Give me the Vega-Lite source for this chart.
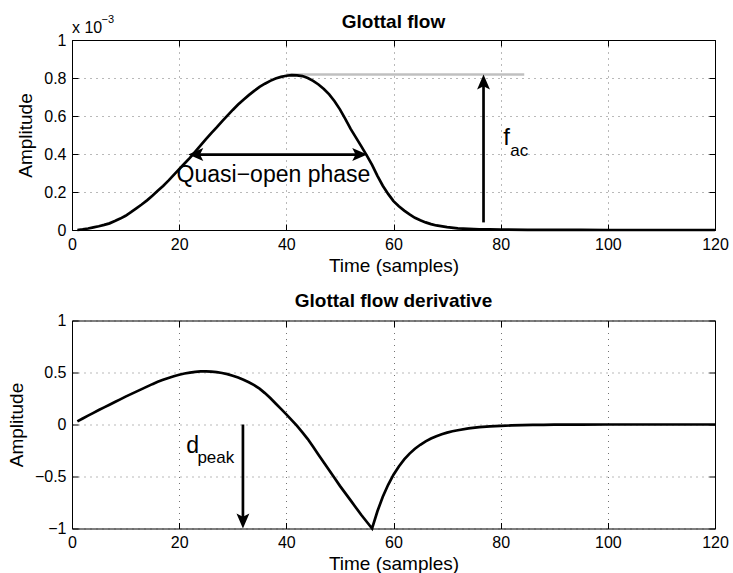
{
  "$schema": "https://vega.github.io/schema/vega-lite/v6.json",
  "background": "white",
  "padding": {"left": 7, "top": 13, "right": 5, "bottom": 0},
  "spacing": 16.5,
  "config": {
    "font": "Liberation Sans",
    "view": {"stroke": null},
    "axis": {
      "domainColor": "#000", "domainWidth": 1,
      "tickColor": "#000", "tickSize": -6, "tickWidth": 1,
      "labelColor": "#000", "labelFontSize": 16, "labelFont": "Liberation Sans",
      "labelFlush": false, "labelOverlap": false, "labelBound": false,
      "titleColor": "#000", "titleFontSize": 19, "titleFontWeight": "normal", "titleFont": "Liberation Sans",
      "gridColor": "#000", "gridOpacity": 0.55, "gridDash": [1, 5], "gridWidth": 1,
      "format": "~r"
    },
    "axisX": {"labelPadding": 12, "titlePadding": 4},
    "axisY": {"labelPadding": 12, "titlePadding": 8},
    "title": {"fontSize": 19, "fontWeight": "bold", "color": "#000", "font": "Liberation Sans", "offset": 2}
  },
  "datasets": {
    "flow": [
      {"t": 1, "v": 0.0}, {"t": 2, "v": 0.003}, {"t": 3, "v": 0.008}, {"t": 4, "v": 0.014}, {"t": 5, "v": 0.02},
      {"t": 6, "v": 0.027}, {"t": 7, "v": 0.035}, {"t": 8, "v": 0.047}, {"t": 9, "v": 0.06}, {"t": 10, "v": 0.075},
      {"t": 11, "v": 0.094}, {"t": 12, "v": 0.114}, {"t": 13, "v": 0.134}, {"t": 14, "v": 0.156}, {"t": 15, "v": 0.18},
      {"t": 16, "v": 0.206}, {"t": 17, "v": 0.232}, {"t": 18, "v": 0.26}, {"t": 19, "v": 0.29}, {"t": 20, "v": 0.32},
      {"t": 21, "v": 0.35}, {"t": 22, "v": 0.38}, {"t": 23, "v": 0.412}, {"t": 24, "v": 0.445}, {"t": 25, "v": 0.478},
      {"t": 26, "v": 0.51}, {"t": 27, "v": 0.54}, {"t": 28, "v": 0.572}, {"t": 29, "v": 0.602}, {"t": 30, "v": 0.632},
      {"t": 31, "v": 0.66}, {"t": 32, "v": 0.686}, {"t": 33, "v": 0.71}, {"t": 34, "v": 0.732}, {"t": 35, "v": 0.753},
      {"t": 36, "v": 0.77}, {"t": 37, "v": 0.785}, {"t": 38, "v": 0.797}, {"t": 39, "v": 0.806}, {"t": 40, "v": 0.812},
      {"t": 41, "v": 0.815}, {"t": 42, "v": 0.814}, {"t": 43, "v": 0.81}, {"t": 44, "v": 0.8}, {"t": 45, "v": 0.785},
      {"t": 46, "v": 0.766}, {"t": 47, "v": 0.742}, {"t": 48, "v": 0.714}, {"t": 49, "v": 0.678}, {"t": 50, "v": 0.635},
      {"t": 51, "v": 0.585}, {"t": 52, "v": 0.532}, {"t": 53, "v": 0.486}, {"t": 54, "v": 0.44}, {"t": 55, "v": 0.393},
      {"t": 56, "v": 0.343}, {"t": 57, "v": 0.285}, {"t": 58, "v": 0.233}, {"t": 59, "v": 0.19}, {"t": 60, "v": 0.152},
      {"t": 61, "v": 0.125}, {"t": 62, "v": 0.102}, {"t": 63, "v": 0.082}, {"t": 64, "v": 0.064}, {"t": 65, "v": 0.051},
      {"t": 66, "v": 0.04}, {"t": 67, "v": 0.031}, {"t": 68, "v": 0.024}, {"t": 70, "v": 0.015}, {"t": 72, "v": 0.009},
      {"t": 74, "v": 0.006}, {"t": 76, "v": 0.004}, {"t": 78, "v": 0.003}, {"t": 80, "v": 0.002}, {"t": 85, "v": 0.001},
      {"t": 90, "v": 0.0005}, {"t": 95, "v": 0.0002}, {"t": 100, "v": 0.0001}, {"t": 110, "v": 0}, {"t": 120, "v": 0}
    ],
    "deriv": [
      {"t": 1, "v": 0.03}, {"t": 2, "v": 0.058}, {"t": 3, "v": 0.085}, {"t": 4, "v": 0.112}, {"t": 5, "v": 0.139},
      {"t": 6, "v": 0.165}, {"t": 7, "v": 0.19}, {"t": 8, "v": 0.216}, {"t": 9, "v": 0.242}, {"t": 10, "v": 0.268},
      {"t": 11, "v": 0.292}, {"t": 12, "v": 0.316}, {"t": 13, "v": 0.34}, {"t": 14, "v": 0.364}, {"t": 15, "v": 0.388},
      {"t": 16, "v": 0.41}, {"t": 17, "v": 0.43}, {"t": 18, "v": 0.448}, {"t": 19, "v": 0.464}, {"t": 20, "v": 0.478},
      {"t": 21, "v": 0.49}, {"t": 22, "v": 0.499}, {"t": 23, "v": 0.506}, {"t": 24, "v": 0.51}, {"t": 25, "v": 0.511},
      {"t": 26, "v": 0.508}, {"t": 27, "v": 0.503}, {"t": 28, "v": 0.495}, {"t": 29, "v": 0.484}, {"t": 30, "v": 0.469},
      {"t": 31, "v": 0.451}, {"t": 32, "v": 0.43}, {"t": 33, "v": 0.406}, {"t": 34, "v": 0.378}, {"t": 35, "v": 0.345},
      {"t": 36, "v": 0.302}, {"t": 37, "v": 0.254}, {"t": 38, "v": 0.202}, {"t": 39, "v": 0.15}, {"t": 40, "v": 0.097},
      {"t": 41, "v": 0.042}, {"t": 42, "v": -0.014}, {"t": 43, "v": -0.076}, {"t": 44, "v": -0.14}, {"t": 45, "v": -0.215},
      {"t": 46, "v": -0.29}, {"t": 47, "v": -0.365}, {"t": 48, "v": -0.44}, {"t": 49, "v": -0.515}, {"t": 50, "v": -0.59},
      {"t": 51, "v": -0.66}, {"t": 52, "v": -0.73}, {"t": 53, "v": -0.8}, {"t": 54, "v": -0.87}, {"t": 55, "v": -0.935},
      {"t": 56, "v": -1.0}, {"t": 57, "v": -0.834}, {"t": 58, "v": -0.695}, {"t": 59, "v": -0.58}, {"t": 60, "v": -0.483},
      {"t": 61, "v": -0.403}, {"t": 62, "v": -0.336}, {"t": 63, "v": -0.28}, {"t": 64, "v": -0.233}, {"t": 65, "v": -0.195},
      {"t": 66, "v": -0.162}, {"t": 67, "v": -0.135}, {"t": 68, "v": -0.113}, {"t": 69, "v": -0.094}, {"t": 70, "v": -0.078},
      {"t": 71, "v": -0.065}, {"t": 72, "v": -0.055}, {"t": 74, "v": -0.038}, {"t": 76, "v": -0.026}, {"t": 78, "v": -0.018},
      {"t": 80, "v": -0.013}, {"t": 82, "v": -0.009}, {"t": 84, "v": -0.006}, {"t": 86, "v": -0.004}, {"t": 88, "v": -0.003},
      {"t": 90, "v": -0.002}, {"t": 95, "v": -0.001}, {"t": 100, "v": 0}, {"t": 110, "v": 0}, {"t": 120, "v": 0}
    ],
    "facLevel": [{"t": 40, "v": 0.818}, {"t": 84.4, "v": 0.818}],
    "topShafts": [
      {"t": 23.5, "v": 0.397, "t2": 53.3, "v2": 0.397},
      {"t": 76.8, "v": 0.04, "t2": 76.8, "v2": 0.77}
    ],
    "headLeft": [{"t": 21.7, "v": 0.397}],
    "headRight": [{"t": 55.1, "v": 0.397}],
    "headUp": [{"t": 76.8, "v": 0.818}],
    "topText": [{"t": 37.6, "v": 0.287, "label": "Quasi−open phase"}],
    "topSym": [{"t": 80.5, "v": 0.446, "label": "f"}],
    "topSub": [{"t": 81.8, "v": 0.388, "label": "ac"}],
    "expBase": [{"t": 0, "v": 1.035, "label": "x 10"}],
    "expSup": [{"t": 5.5, "v": 1.087, "label": "−3"}],
    "botShaft": [{"t": 31.9, "v": 0, "t2": 31.9, "v2": -0.9}],
    "headDown": [{"t": 31.9, "v": -1.0}],
    "botSym": [{"t": 21.3, "v": -0.273, "label": "d"}],
    "botSub": [{"t": 23.4, "v": -0.369, "label": "peak"}]
  },
  "vconcat": [
    {
      "width": 643,
      "height": 190,
      "title": {"text": "Glottal flow", "dy": 20},
      "resolve": {"axis": {"x": "independent", "y": "independent"}},
      "layer": [
        {
          "data": {"name": "facLevel"},
          "mark": {"type": "line", "color": "#c0c0c0", "strokeWidth": 2.5},
          "encoding": {
            "x": {"field": "t", "type": "quantitative", "scale": {"domain": [0, 120], "nice": false, "zero": false},
                  "axis": {"orient": "top", "labels": false, "title": null, "grid": false, "values": [0, 20, 40, 60, 80, 100, 120]}},
            "y": {"field": "v", "type": "quantitative", "scale": {"domain": [0, 1], "nice": false},
                  "axis": {"orient": "right", "labels": false, "title": null, "grid": false, "values": [0, 0.2, 0.4, 0.6, 0.8, 1]}}
          }
        },
        {
          "data": {"name": "flow"},
          "mark": {"type": "line", "color": "#000", "strokeWidth": 2.7},
          "encoding": {
            "x": {"field": "t", "type": "quantitative",
                  "axis": {"title": "Time (samples)", "values": [0, 20, 40, 60, 80, 100, 120], "grid": true}},
            "y": {"field": "v", "type": "quantitative",
                  "axis": {"title": "Amplitude", "values": [0, 0.2, 0.4, 0.6, 0.8, 1], "grid": true}}
          }
        },
        {
          "data": {"name": "topShafts"},
          "mark": {"type": "rule", "color": "#000", "strokeWidth": 2.7},
          "encoding": {
            "x": {"field": "t", "type": "quantitative", "axis": null},
            "x2": {"field": "t2"},
            "y": {"field": "v", "type": "quantitative", "axis": null},
            "y2": {"field": "v2"}
          }
        },
        {
          "data": {"name": "headLeft"},
          "mark": {"type": "point", "shape": "M0,0L0.43,1L0,0.78L-0.43,1Z", "size": 900, "angle": 270, "filled": true, "color": "#000", "opacity": 1, "strokeWidth": 0},
          "encoding": {
            "x": {"field": "t", "type": "quantitative", "axis": null},
            "y": {"field": "v", "type": "quantitative", "axis": null}
          }
        },
        {
          "data": {"name": "headRight"},
          "mark": {"type": "point", "shape": "M0,0L0.43,1L0,0.78L-0.43,1Z", "size": 900, "angle": 90, "filled": true, "color": "#000", "opacity": 1, "strokeWidth": 0},
          "encoding": {
            "x": {"field": "t", "type": "quantitative", "axis": null},
            "y": {"field": "v", "type": "quantitative", "axis": null}
          }
        },
        {
          "data": {"name": "headUp"},
          "mark": {"type": "point", "shape": "M0,0L0.43,1L0,0.78L-0.43,1Z", "size": 900, "angle": 0, "filled": true, "color": "#000", "opacity": 1, "strokeWidth": 0},
          "encoding": {
            "x": {"field": "t", "type": "quantitative", "axis": null},
            "y": {"field": "v", "type": "quantitative", "axis": null}
          }
        },
        {
          "data": {"name": "topText"},
          "mark": {"type": "text", "fontSize": 23, "align": "center", "baseline": "middle", "color": "#000"},
          "encoding": {
            "x": {"field": "t", "type": "quantitative", "axis": null},
            "y": {"field": "v", "type": "quantitative", "axis": null},
            "text": {"field": "label"}
          }
        },
        {
          "data": {"name": "topSym"},
          "mark": {"type": "text", "fontSize": 24, "align": "left", "baseline": "alphabetic", "color": "#000"},
          "encoding": {
            "x": {"field": "t", "type": "quantitative", "axis": null},
            "y": {"field": "v", "type": "quantitative", "axis": null},
            "text": {"field": "label"}
          }
        },
        {
          "data": {"name": "topSub"},
          "mark": {"type": "text", "fontSize": 17, "align": "left", "baseline": "alphabetic", "color": "#000"},
          "encoding": {
            "x": {"field": "t", "type": "quantitative", "axis": null},
            "y": {"field": "v", "type": "quantitative", "axis": null},
            "text": {"field": "label"}
          }
        },
        {
          "data": {"name": "expBase"},
          "mark": {"type": "text", "fontSize": 16, "align": "left", "baseline": "alphabetic", "color": "#000"},
          "encoding": {
            "x": {"field": "t", "type": "quantitative", "axis": null},
            "y": {"field": "v", "type": "quantitative", "axis": null},
            "text": {"field": "label"}
          }
        },
        {
          "data": {"name": "expSup"},
          "mark": {"type": "text", "fontSize": 11, "align": "left", "baseline": "alphabetic", "color": "#000"},
          "encoding": {
            "x": {"field": "t", "type": "quantitative", "axis": null},
            "y": {"field": "v", "type": "quantitative", "axis": null},
            "text": {"field": "label"}
          }
        }
      ]
    },
    {
      "width": 643,
      "height": 208,
      "title": {"text": "Glottal flow derivative"},
      "resolve": {"axis": {"x": "independent", "y": "independent"}},
      "layer": [
        {
          "data": {"name": "deriv"},
          "mark": {"type": "line", "color": "#000", "strokeWidth": 2.7},
          "encoding": {
            "x": {"field": "t", "type": "quantitative", "scale": {"domain": [0, 120], "nice": false, "zero": false},
                  "axis": {"title": "Time (samples)", "values": [0, 20, 40, 60, 80, 100, 120], "grid": true}},
            "y": {"field": "v", "type": "quantitative", "scale": {"domain": [-1, 1], "nice": false},
                  "axis": {"title": "Amplitude", "values": [-1, -0.5, 0, 0.5, 1], "grid": true}}
          }
        },
        {
          "data": {"name": "botShaft"},
          "mark": {"type": "rule", "color": "#000", "strokeWidth": 2.7},
          "encoding": {
            "x": {"field": "t", "type": "quantitative",
                  "axis": {"orient": "top", "labels": false, "title": null, "grid": false, "values": [0, 20, 40, 60, 80, 100, 120]}},
            "x2": {"field": "t2"},
            "y": {"field": "v", "type": "quantitative",
                  "axis": {"orient": "right", "labels": false, "title": null, "grid": false, "values": [-1, -0.5, 0, 0.5, 1]}},
            "y2": {"field": "v2"}
          }
        },
        {
          "data": {"name": "headDown"},
          "mark": {"type": "point", "shape": "M0,0L0.43,1L0,0.78L-0.43,1Z", "size": 900, "angle": 180, "filled": true, "color": "#000", "opacity": 1, "strokeWidth": 0},
          "encoding": {
            "x": {"field": "t", "type": "quantitative", "axis": null},
            "y": {"field": "v", "type": "quantitative", "axis": null}
          }
        },
        {
          "data": {"name": "botSym"},
          "mark": {"type": "text", "fontSize": 23, "align": "left", "baseline": "alphabetic", "color": "#000"},
          "encoding": {
            "x": {"field": "t", "type": "quantitative", "axis": null},
            "y": {"field": "v", "type": "quantitative", "axis": null},
            "text": {"field": "label"}
          }
        },
        {
          "data": {"name": "botSub"},
          "mark": {"type": "text", "fontSize": 17, "align": "left", "baseline": "alphabetic", "color": "#000"},
          "encoding": {
            "x": {"field": "t", "type": "quantitative", "axis": null},
            "y": {"field": "v", "type": "quantitative", "axis": null},
            "text": {"field": "label"}
          }
        }
      ]
    }
  ]
}
